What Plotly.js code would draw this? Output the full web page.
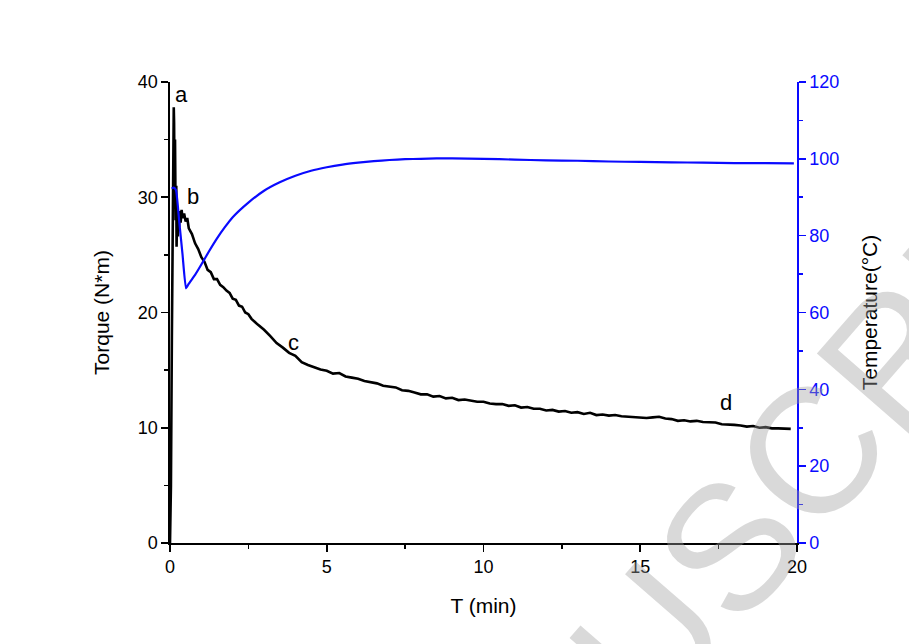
<!DOCTYPE html>
<html>
<head>
<meta charset="utf-8">
<script src="https://cdn.plot.ly/plotly-3.0.1.min.js"></script>
<style>html,body{margin:0;padding:0;background:#fff;}#chart{width:909px;height:644px;}</style>
</head>
<body>
<div id="chart"></div>
<script>
// Torque (N*m) vs time (min)
const torqueTime = [0, 0.03, 0.06, 0.09, 0.12, 0.13, 0.14, 0.16, 0.18, 0.2, 0.21, 0.23, 0.25, 0.27, 0.29, 0.31, 0.34, 0.37, 0.4, 0.45, 0.5, 0.55, 0.6, 0.7, 0.8, 0.9, 1.0, 1.1, 1.2, 1.3, 1.4, 1.5, 1.6, 1.7, 1.8, 1.9, 2.0, 2.1, 2.2, 2.3, 2.4, 2.5,
  2.6, 2.8, 3.0, 3.2, 3.4, 3.6, 3.8, 4.0, 4.2, 4.4, 4.6, 4.8, 5.0, 5.2, 5.4, 5.6, 5.8, 6.0, 6.2, 6.4, 6.6, 6.8, 7.0, 7.2, 7.4, 7.6, 7.8, 8.0,
  8.2, 8.4, 8.6, 8.8, 9.0, 9.2, 9.4, 9.6, 9.8, 10.0, 10.2, 10.4, 10.6, 10.8, 11.0, 11.2, 11.4, 11.6, 11.8, 12.0, 12.2, 12.4, 12.6, 12.8, 13.0,
  13.2, 13.4, 13.6, 13.8, 14.0, 14.2, 14.4, 14.6, 14.8, 15.0, 15.2, 15.4, 15.6, 15.8, 16.0, 16.2, 16.4, 16.6, 16.8, 17.0, 17.2, 17.4, 17.6, 17.8,
  18.0, 18.2, 18.4, 18.6, 18.8, 19.0, 19.2, 19.4, 19.6, 19.8];
const torque = [0, 5, 18, 30, 37.8, 36.5, 33, 35, 28, 31, 25.7, 29, 26.6, 28.7, 27.4, 28.8, 27.8, 28.9, 28.2, 28.6, 27.9, 28.2, 27.3, 26.8, 26.0, 25.5, 24.8, 24.4, 23.7, 23.5, 22.9, 22.9, 22.4, 22.2, 21.9, 21.7, 21.2, 21.1, 20.6, 20.5, 20.0, 19.85,
  19.45, 18.95, 18.5, 17.95, 17.35, 16.95, 16.5, 16.25, 15.7, 15.45, 15.25, 15.05, 14.95, 14.7, 14.75, 14.45, 14.35, 14.25, 14.05, 13.95, 13.85, 13.65, 13.55, 13.5, 13.25, 13.2, 13.05, 12.9,
  12.9, 12.7, 12.75, 12.55, 12.6, 12.4, 12.45, 12.35, 12.25, 12.25, 12.1, 12.05, 12.05, 11.9, 11.95, 11.75, 11.8, 11.65, 11.65, 11.5, 11.55, 11.4, 11.45, 11.3, 11.35,
  11.2, 11.3, 11.1, 11.15, 11.05, 11.1, 11.0, 10.95, 10.95, 10.9, 10.85, 10.9, 10.95, 10.8, 10.75, 10.6, 10.65, 10.55, 10.6, 10.5, 10.45, 10.45, 10.3, 10.3,
  10.25, 10.2, 10.1, 10.15, 10.0, 10.05, 9.95, 9.95, 9.95, 9.9];

// Temperature (°C) vs time (min)
const tempTime = [0.05, 0.12, 0.19, 0.3, 0.4, 0.51, 0.6, 0.8, 1.0, 1.25, 1.5, 1.75, 2.0, 2.5, 3.0, 3.5, 4.0, 4.5, 5.0, 5.5, 6.0, 6.5, 7.0, 7.5, 8.0, 8.5, 9.0, 10.0, 11.0, 12.0, 13.0, 14.0, 15.0, 16.0, 17.0, 18.0, 19.0, 19.9];
const temperature = [92.3, 92.5, 91.9, 83.2, 75.1, 66.3, 67.5, 69.8, 72.5, 76.0, 79.3, 82.2, 84.8, 88.6, 91.7, 93.9, 95.6, 96.9, 97.8, 98.5, 99.0, 99.4, 99.7, 99.9, 100.0, 100.1, 100.1, 100.0, 99.8, 99.6, 99.5, 99.3, 99.2, 99.1, 99.0, 98.9, 98.9, 98.8];

// Point labels
const labelText = ['a', 'b', 'c', 'd'];
const labelX = [0.38, 0.72, 3.95, 17.75];
const labelY = [38.9, 30.1, 17.4, 12.2];

const FONT = 'Liberation Sans, Arial, sans-serif';
const BLUE = '#0a0aff';

const traces = [
  {x: torqueTime, y: torque, type: 'scatter', mode: 'lines', name: 'Torque',
   line: {color: '#000000', width: 2.6}, yaxis: 'y'},
  {x: tempTime, y: temperature, type: 'scatter', mode: 'lines', name: 'Temperature',
   line: {color: BLUE, width: 2.2, shape: 'spline', smoothing: 0.4}, yaxis: 'y2'}
];

const annotations = labelText.map((t, i) => ({
  x: labelX[i], y: labelY[i], xref: 'x', yref: 'y', text: t, showarrow: false,
  font: {family: FONT, size: 22, color: '#000'}
}));
annotations.push({
  xref: 'paper', yref: 'paper', x: 1.105, y: 0.325, xanchor: 'center', yanchor: 'middle',
  text: 'USCRIPT', showarrow: false, textangle: -49,
  font: {family: FONT, size: 178, color: 'rgba(160,160,160,0.4)'}
});

const layout = {
  width: 909, height: 644,
  paper_bgcolor: '#ffffff', plot_bgcolor: '#ffffff',
  margin: {l: 170, r: 112, t: 82, b: 101},
  showlegend: false,
  font: {family: FONT, color: '#000'},
  xaxis: {
    range: [0, 20], dtick: 5, tick0: 0, showgrid: false, zeroline: false,
    showline: true, linecolor: '#000', linewidth: 1.6,
    ticks: 'outside', ticklen: 7, tickwidth: 1.6, tickcolor: '#000',
    minor: {dtick: 2.5, ticks: 'outside', ticklen: 4, tickwidth: 1.6, tickcolor: '#000'},
    tickfont: {family: FONT, size: 18, color: '#000'},
    title: {text: 'T (min)', font: {family: FONT, size: 21, color: '#000'}, standoff: 22}
  },
  yaxis: {
    range: [0, 40], dtick: 10, tick0: 0, showgrid: false, zeroline: false,
    showline: true, linecolor: '#000', linewidth: 1.6,
    ticks: 'outside', ticklen: 7, tickwidth: 1.6, tickcolor: '#000',
    minor: {dtick: 5, ticks: 'outside', ticklen: 4, tickwidth: 1.6, tickcolor: '#000'},
    tickfont: {family: FONT, size: 18, color: '#000'},
    title: {text: 'Torque (N*m)', font: {family: FONT, size: 21, color: '#000'}, standoff: 22}
  },
  yaxis2: {
    range: [0, 120], dtick: 20, tick0: 0, overlaying: 'y', side: 'right', anchor: 'x',
    showgrid: false, zeroline: false,
    showline: true, linecolor: BLUE, linewidth: 1.6,
    ticks: 'outside', ticklen: 7, tickwidth: 1.6, tickcolor: BLUE,
    minor: {dtick: 10, ticks: 'outside', ticklen: 4, tickwidth: 1.6, tickcolor: BLUE},
    tickfont: {family: FONT, size: 18, color: BLUE},
    title: {text: 'Temperature(°C)', font: {family: FONT, size: 21, color: '#000'}, standoff: 24}
  },
  annotations: annotations
};

Plotly.newPlot('chart', traces, layout, {displayModeBar: false, staticPlot: true});
</script>
</body>
</html>
